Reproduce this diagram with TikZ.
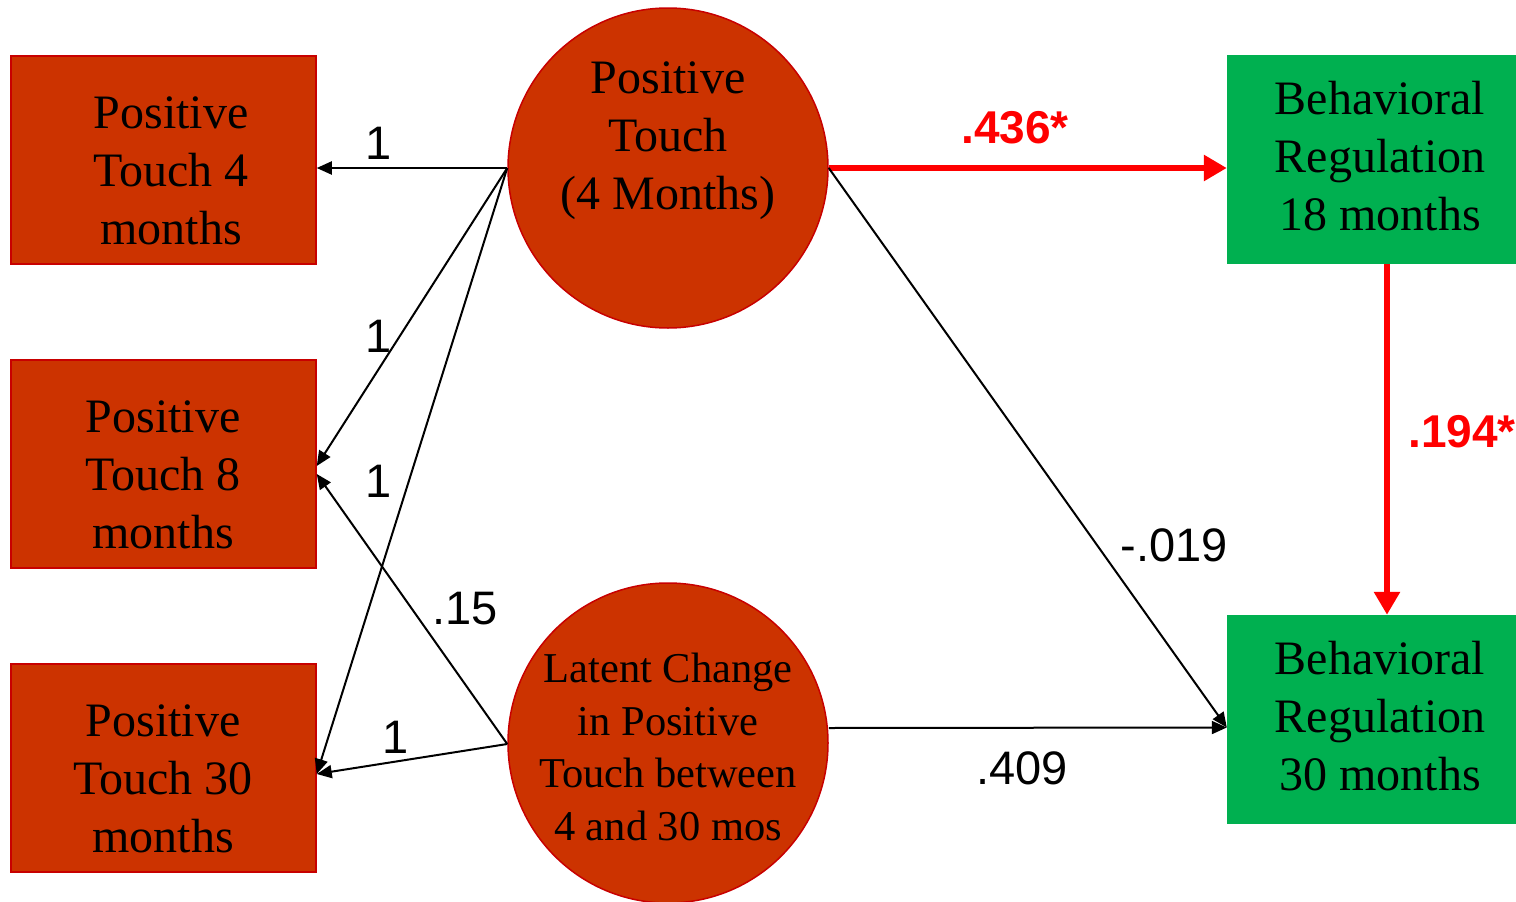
\documentclass[tikz,border=0pt]{standalone}
\usepackage{fontspec}
\setmainfont{Liberation Serif}
\setsansfont{Liberation Sans}
\usetikzlibrary{arrows.meta,calc}
\definecolor{touchfill}{RGB}{204,51,0}
\definecolor{touchedge}{RGB}{200,0,0}
\definecolor{regfill}{RGB}{0,176,80}
\definecolor{sigred}{RGB}{255,0,0}
\tikzset{
  obsbox/.style={draw=touchedge, line width=1.5pt, fill=touchfill, minimum width=305pt, minimum height=208pt, inner sep=0pt},
  regbox/.style={fill=regfill, minimum width=289pt, minimum height=209pt, inner sep=0pt},
  latent/.style={circle, draw=touchedge, line width=1.5pt, fill=touchfill, minimum size=320pt, inner sep=0pt},
  boxtext/.style={align=center, font=\fontsize{48}{58}\selectfont, inner sep=0pt},
  smalltext/.style={align=center, font=\fontsize{42.5}{52.5}\selectfont, inner sep=0pt},
  path/.style={draw=black, line width=2pt, -{Triangle[length=15pt,width=13pt]}},
  sigpath/.style={draw=sigred, line width=6pt, -{Triangle[length=23pt,width=25pt]}},
  coef/.style={font=\sffamily\fontsize{47}{47}\selectfont, inner sep=0pt},
  sigcoef/.style={font=\sffamily\bfseries\fontsize{46}{46}\selectfont, text=sigred, inner sep=0pt}
}
\begin{document}
\begin{tikzpicture}[x=1pt,y=-1pt]
\useasboundingbox (0,0) rectangle (1516,902);

% observed positive touch measures
\node[obsbox] (b1) at (163.5,160) {};
\node[obsbox] (b2) at (163.5,464) {};
\node[obsbox] (b3) at (163.5,768) {};
\node[boxtext] (t1) at (171,171) {Positive\\Touch 4\\months};
\node[boxtext] (t2) at (163,475) {Positive\\Touch 8\\months};
\node[boxtext] (t3) at (163,779) {Positive\\Touch 30\\months};

% latent factors
\node[latent] (c1) at (668,168) {};
\node[latent] (c2) at (668,743) {};
\node[boxtext] (ct1) at (668,141) {Positive\\Touch\\(4 Months)};
\node[smalltext] (ct2) at (668,747) {Latent Change\\in Positive\\Touch between\\4 and 30 mos};

% behavioral regulation outcomes
\node[regbox] (r1) at (1371.5,159.5) {};
\node[regbox] (r2) at (1371.5,719.5) {};
\node[boxtext] (rt1) at (1380,156) {Behavioral\\Regulation\\18 months};
\node[boxtext] (rt2) at (1380,716) {Behavioral\\Regulation\\30 months};

% loadings
\coordinate (c1w) at (c1.west);
\coordinate (c2w) at ($(c2.west)+(0,1)$);
\draw[path] (c1w) -- ($(b1.east)+(0,8)$);
\draw[path] (c1w) -- ($(b2.east)+(0,2)$);
\draw[path] (c1w) -- ($(b3.east)+(0,6)$);
\draw[path] (c2w) -- ($(b2.east)+(0,10)$);
\draw[path] (c2w) -- ($(b3.east)+(0,6)$);

% structural paths
\coordinate (c1e) at (c1.east);
\coordinate (c2e) at ($(c2.east)+(0,-15)$);
\coordinate (r2w) at ($(r2.west)+(0,8)$);
\draw[sigpath] (c1e) -- ($(r1.west)+(0,8.5)$);
\draw[sigpath] ($(r1.south)+(15.5,0)$) -- ($(r2.north)+(15.5,0)$);
\draw[path] (c1e) -- (r2w);
\draw[path] (c2e) -- (r2w);

% coefficients
\node[coef] (l1) at (379,143) {1};
\node[coef] (l2) at (379,336) {1};
\node[coef] (l3) at (379,481) {1};
\node[coef] (l4) at (396,737) {1};
\node[coef] (l5) at (465,609) {.15};
\node[coef] (l6) at (1174,545) {-.019};
\node[coef] (l7) at (1022,768) {.409};
\node[sigcoef] (l8) at (1015,128) {.436*};
\node[sigcoef] (l9) at (1462,432) {.194*};
\end{tikzpicture}
\end{document}
